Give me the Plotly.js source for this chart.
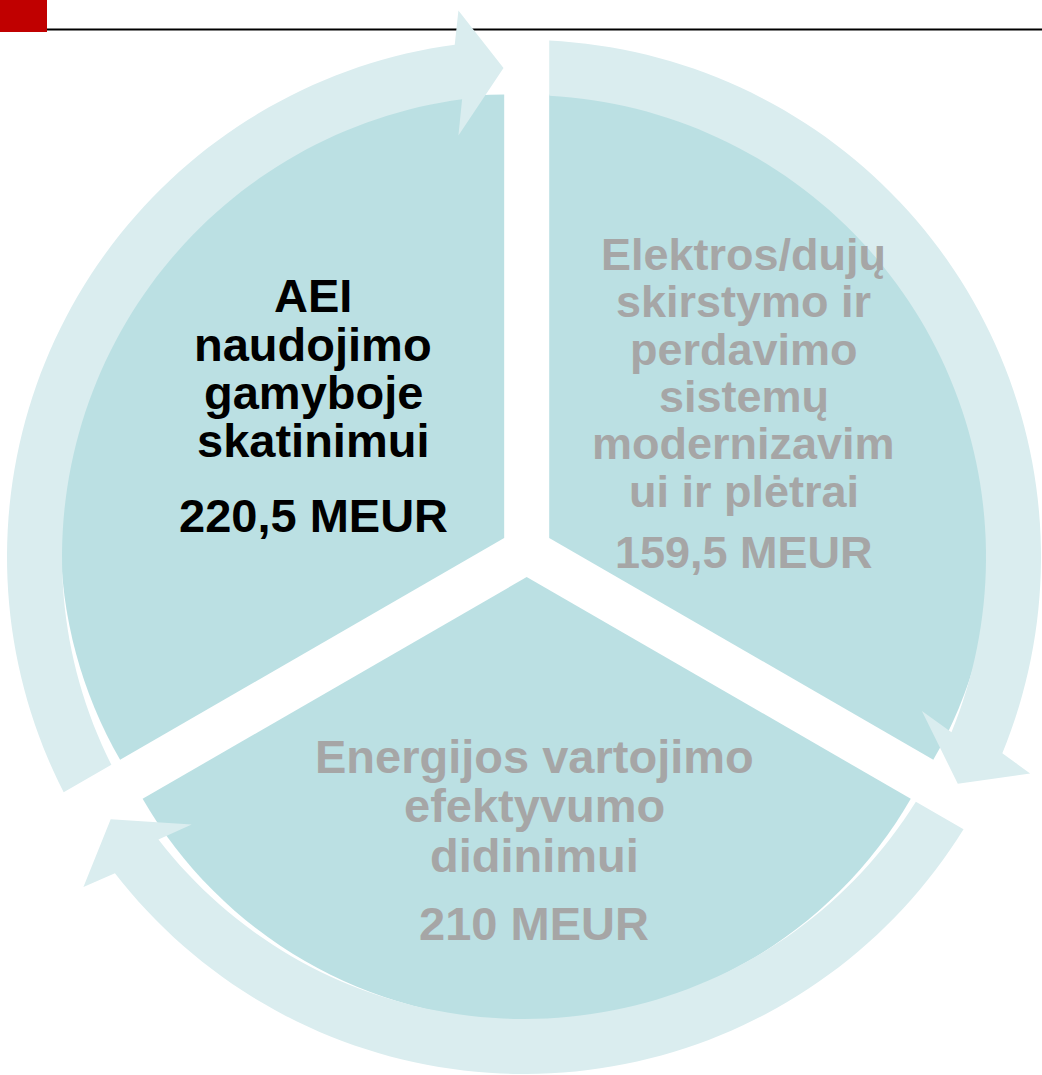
<!DOCTYPE html>
<html><head><meta charset="utf-8">
<script src="https://cdn.plot.ly/plotly-3.0.1.min.js"></script>
<style>html,body{margin:0;padding:0;background:#fff;overflow:hidden}</style>
</head><body><div id="chart" style="width:1042px;height:1075px"></div>
<script>
// ---- data ----
const categories = [
  'AEI naudojimo gamyboje skatinimui',
  'Energijos vartojimo efektyvumo didinimui',
  'Elektros/dujų skirstymo ir perdavimo sistemų modernizavimui ir plėtrai'
];
const amountsMEUR = [220.5, 210, 159.5];
const sliceShares = [1, 1, 1];           // segments drawn as equal thirds in the diagram
const labelLines = [
  ['AEI', 'naudojimo', 'gamyboje', 'skatinimui'],
  ['Energijos vartojimo', 'efektyvumo', 'didinimui'],
  ['Elektros/dujų', 'skirstymo ir', 'perdavimo', 'sistemų', 'modernizavim', 'ui ir plėtrai']
];
const amountLabels = amountsMEUR.map(v => String(v).replace('.', ',') + ' MEUR');

// ---- layout / style ----
const W = 1042, H = 1075;
const sectorColor = '#BBE0E3';
const ringColor = '#DAEDEF';
const textColors = ['#000000', '#A6A6A6', '#A6A6A6'];
const fontFamily = '"Liberation Sans", Arial, Helvetica, sans-serif';
const labelPos = [
  {x: 313, base: [312, 360.5, 408.5, 457], amount: 532, size: 47},
  {x: 534, base: [773, 822, 872], amount: 940, size: 47},
  {x: 744, base: [270, 317.5, 365, 412, 459.5, 507], amount: 568, size: 45}
];

// pie geometry (pixels)
const SC = {x: 526.7, y: 551};   // pie centre
const pieR = 443.5, pullPx = 26;
const pull = pullPx / pieR;
const box = 2 * pieR * (1 + pull);

// ring geometry (pixels)
const RC = {x: 524, y: 557};
const Ro = 517, Ri = 462, Rm = (Ro + Ri) / 2;
const barbOut = 551, barbIn = 426;
const tipOffset = 2.4, headLen = 5.3;

const px = (x) => x / W;
const py = (y) => 1 - y / H;
const rad = (d) => d * Math.PI / 180;
function polar(r, deg) { return [RC.x + r * Math.cos(rad(deg)), RC.y - r * Math.sin(rad(deg))]; }
function lineCircle(V, dirDeg, R) {
  const dx = Math.cos(rad(dirDeg)), dy = -Math.sin(rad(dirDeg));
  const fx = V[0] - RC.x, fy = V[1] - RC.y;
  const b = fx * dx + fy * dy, c = fx * fx + fy * fy - R * R;
  const t = -b + Math.sqrt(b * b - c);
  return [V[0] + t * dx, V[1] + t * dy];
}
function angleOf(p, near) {
  let a = Math.atan2(-(p[1] - RC.y), p[0] - RC.x) * 180 / Math.PI;
  while (a - near > 180) a -= 360;
  while (near - a > 180) a += 360;
  return a;
}
function P(p) { return px(p[0]).toFixed(5) + ',' + py(p[1]).toFixed(5); }

function arrowPath(a0) {
  const a1 = a0 + 120, mid = a0 + 60;
  const V = [SC.x + pullPx * Math.cos(rad(mid)), SC.y - pullPx * Math.sin(rad(mid))];
  const tO = lineCircle(V, a1, Ro), tI = lineCircle(V, a1, Ri);
  const angO = angleOf(tO, a1), angI = angleOf(tI, a1);
  const tipAng = a0 + tipOffset, baseAng = tipAng + headLen;
  const B = polar(Rm, baseAng);
  const u = [Math.cos(rad(a0)), -Math.sin(rad(a0))];
  const along = (d) => [B[0] + d * u[0], B[1] + d * u[1]];
  let s = 'M' + P(tO);
  const n = 80;
  for (let i = 1; i <= n; i++) s += ' L' + P(polar(Ro, angO + (baseAng - angO) * i / n));
  s += ' L' + P(along(barbOut - Rm));
  s += ' L' + P(polar(Rm, tipAng));
  s += ' L' + P(along(barbIn - Rm));
  s += ' L' + P(polar(Ri, baseAng));
  for (let i = 1; i <= n; i++) s += ' L' + P(polar(Ri, baseAng + (angI - baseAng) * i / n));
  s += ' L' + P(tI) + ' Z';
  return s;
}

const shapes = [
  {type: 'rect', xref: 'paper', yref: 'paper', x0: px(0), x1: px(47), y0: py(0), y1: py(32),
   fillcolor: '#C00000', line: {width: 0}, layer: 'above'},
  {type: 'line', xref: 'paper', yref: 'paper', x0: px(47), x1: px(W), y0: py(29.5), y1: py(29.5),
   line: {color: '#000000', width: 2}, layer: 'above'}
];
[90, 210, 330].forEach(a0 => {
  shapes.push({type: 'path', xref: 'paper', yref: 'paper', path: arrowPath(a0),
    fillcolor: ringColor, line: {width: 0}, layer: 'above'});
});

const annotations = [];
labelLines.forEach((lines, k) => {
  const L = labelPos[k];
  const all = lines.concat([amountLabels[k]]);
  const bases = L.base.concat([L.amount]);
  all.forEach((t, j) => {
    annotations.push({
      text: t, xref: 'paper', yref: 'paper',
      x: px(L.x), y: py(bases[j] - 0.3465 * L.size),
      xanchor: 'center', yanchor: 'middle', showarrow: false,
      font: {family: fontFamily, size: L.size, color: textColors[k], weight: 700}
    });
  });
});

const trace = {
  type: 'pie',
  labels: categories,
  values: sliceShares,
  customdata: amountsMEUR,
  sort: false,
  direction: 'counterclockwise',
  rotation: 0,
  pull: pull,
  textinfo: 'none',
  hoverinfo: 'skip',
  marker: {colors: categories.map(() => sectorColor), line: {width: 0}},
  domain: {x: [px(SC.x - box / 2), px(SC.x + box / 2)], y: [py(SC.y + box / 2), py(SC.y - box / 2)]},
  showlegend: false
};

Plotly.newPlot('chart', [trace], {
  width: W, height: H,
  margin: {l: 0, r: 0, t: 0, b: 0},
  paper_bgcolor: '#ffffff',
  plot_bgcolor: '#ffffff',
  showlegend: false,
  shapes: shapes,
  annotations: annotations
}, {displayModeBar: false, staticPlot: true});
</script>
</body></html>
